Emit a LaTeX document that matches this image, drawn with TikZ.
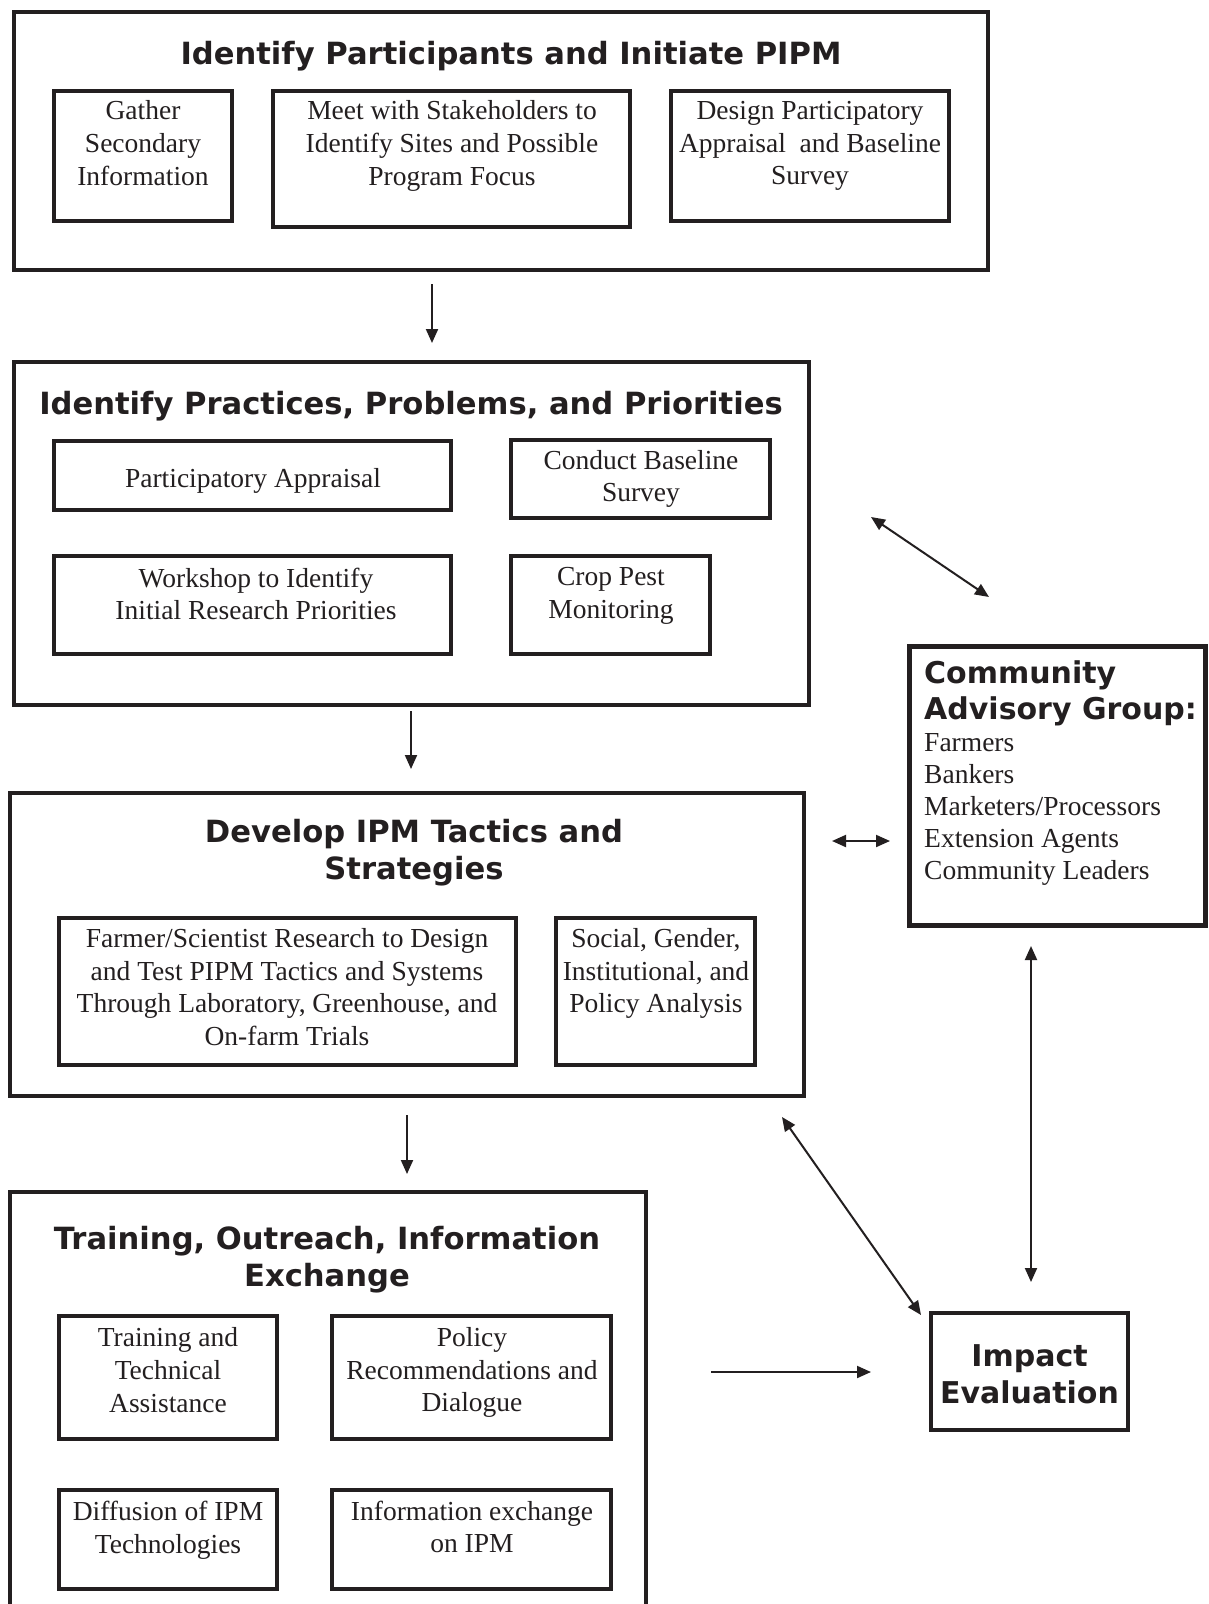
\documentclass[tikz,border=0pt]{standalone}
\usepackage{fontspec}
\setmainfont{Liberation Serif}
\newfontfamily\hdfont{DejaVu Sans}
\usetikzlibrary{arrows.meta}
\definecolor{ink}{RGB}{35,31,32}
\begin{document}
\begin{tikzpicture}[x=1pt,y=-1pt,
 box/.style={draw=ink,line width=4.5pt,inner sep=0pt,rectangle},
 txt/.style={text=ink,inner sep=0pt,align=center,font=\fontsize{27.5}{32.7}\selectfont},
 lst/.style={text=ink,inner sep=0pt,align=left,font=\fontsize{27.5}{32}\selectfont},
 hd/.style={text=ink,inner sep=0pt,align=center,font=\hdfont\bfseries\fontsize{30.6}{36.8}\selectfont},
 hdl/.style={text=ink,inner sep=0pt,align=left,font=\hdfont\bfseries\fontsize{30}{36}\selectfont},
 tipA/.tip={Triangle[length=14pt,width=12pt]},
 arr/.style={draw=ink,line width=2pt,-tipA},
 darr/.style={draw=ink,line width=2pt,tipA-tipA}]
\useasboundingbox (0,0) rectangle (1208,1604);
\fill[white] (0,0) rectangle (1208,1604);
\clip (0,0) rectangle (1208,1604);

% Box 1
\node[box,minimum width=974pt,minimum height=258pt] (b1) at (501,141) {};
\node[hd] (h1) at (511,56) {Identify Participants and Initiate PIPM};
\node[box,minimum width=178pt,minimum height=130pt] (g) at (143,156) {};
\node[txt] (gt) at (143,143) {Gather\\Secondary\\Information};
\node[box,minimum width=357pt,minimum height=136pt] (m) at (451.5,159) {};
\node[txt] (mt) at (452,146) {Meet with Stakeholders to\\Identify Sites and Possible\\Program Focus};
\node[box,minimum width=278pt,minimum height=130pt] (d) at (810,156) {};
\node[txt] (dt) at (810,146) {Design Participatory\\Appraisal~ and Baseline\\Survey};

% Box 2
\node[box,minimum width=795pt,minimum height=343pt] (b2) at (411.5,533.5) {};
\node[hd] (h2) at (411,406) {Identify Practices, Problems, and Priorities};
\node[box,minimum width=397pt,minimum height=69pt] (pa) at (252.5,475.5) {};
\node[txt] (pat) at (253,481) {Participatory Appraisal};
\node[box,minimum width=259pt,minimum height=78pt] (cb) at (640.5,479) {};
\node[txt] (cbt) at (641,479) {Conduct Baseline\\Survey};
\node[box,minimum width=397pt,minimum height=98pt] (ws) at (252.5,605) {};
\node[txt] (wst) at (256,594) {Workshop to Identify\\Initial Research Priorities};
\node[box,minimum width=199pt,minimum height=98pt] (cp) at (610.5,605) {};
\node[txt] (cpt) at (611,596) {Crop Pest\\Monitoring};

% Box 3
\node[box,minimum width=794pt,minimum height=303pt] (b3) at (407,944.5) {};
\node[hd] (h3) at (414,852.5) {Develop IPM Tactics and\\Strategies};
\node[box,minimum width=457pt,minimum height=147pt] (fs) at (287.5,991.5) {};
\node[txt] (fst) at (287,987) {Farmer/Scientist Research to Design\\and Test PIPM Tactics and Systems\\Through Laboratory, Greenhouse, and\\On-farm Trials};
\node[box,minimum width=199pt,minimum height=147pt] (sg) at (655.5,991.5) {};
\node[txt] (sgt) at (656,973.5) {Social, Gender,\\Institutional, and\\Policy Analysis};

% Box 4
\node[box,minimum width=636pt,minimum height=448pt] (b4) at (328,1416) {};
\node[hd] (h4) at (327,1259.5) {Training, Outreach, Information\\Exchange};
\node[box,minimum width=218pt,minimum height=123pt] (tt) at (168,1377.5) {};
\node[txt] (ttt) at (168,1370) {Training and\\Technical\\Assistance};
\node[box,minimum width=279pt,minimum height=123pt] (pr) at (471.5,1377.5) {};
\node[txt] (prt) at (472,1372.5) {Policy\\Recommendations and\\Dialogue};
\node[box,minimum width=218pt,minimum height=99pt] (di) at (168,1539.5) {};
\node[txt] (dit) at (168,1530) {Diffusion of IPM\\Technologies};
\node[box,minimum width=279pt,minimum height=99pt] (ie) at (471.5,1539.5) {};
\node[txt] (iet) at (472,1527) {Information exchange\\on IPM};

% Community Advisory Group
\node[box,minimum width=296pt,minimum height=279pt] (cag) at (1057.5,786) {};
\node[hdl,anchor=north west] (cagh) at (924,660) {Community\\Advisory Group:};
\node[lst,anchor=north west] (cagl) at (924,733) {Farmers\\Bankers\\Marketers/Processors\\Extension Agents\\Community Leaders};

% Impact Evaluation
\node[box,minimum width=197pt,minimum height=117pt] (imp) at (1029.5,1371.5) {};
\node[hd,font=\hdfont\bfseries\fontsize{30}{36.8}\selectfont] (impt) at (1029.5,1374) {Impact\\Evaluation};

% connector end points
\coordinate (a1s) at (432,284); \coordinate (a1e) at (432,343);
\coordinate (a2s) at (411,711); \coordinate (a2e) at (411,769);
\coordinate (a3s) at (407,1115); \coordinate (a3e) at (407,1174);
\coordinate (a4s) at (711,1372); \coordinate (a4e) at (871,1372);
\coordinate (d1s) at (871,517); \coordinate (d1e) at (989,597);
\coordinate (d2s) at (832,841); \coordinate (d2e) at (890,841);
\coordinate (d3s) at (1031,946); \coordinate (d3e) at (1031,1282);
\coordinate (d4s) at (782,1117); \coordinate (d4e) at (921,1315);

\draw[arr] (a1s) -- (a1e);
\draw[arr] (a2s) -- (a2e);
\draw[arr] (a3s) -- (a3e);
\draw[arr] (a4s) -- (a4e);
\draw[darr] (d1s) -- (d1e);
\draw[darr] (d2s) -- (d2e);
\draw[darr] (d3s) -- (d3e);
\draw[darr] (d4s) -- (d4e);
\end{tikzpicture}
\end{document}
